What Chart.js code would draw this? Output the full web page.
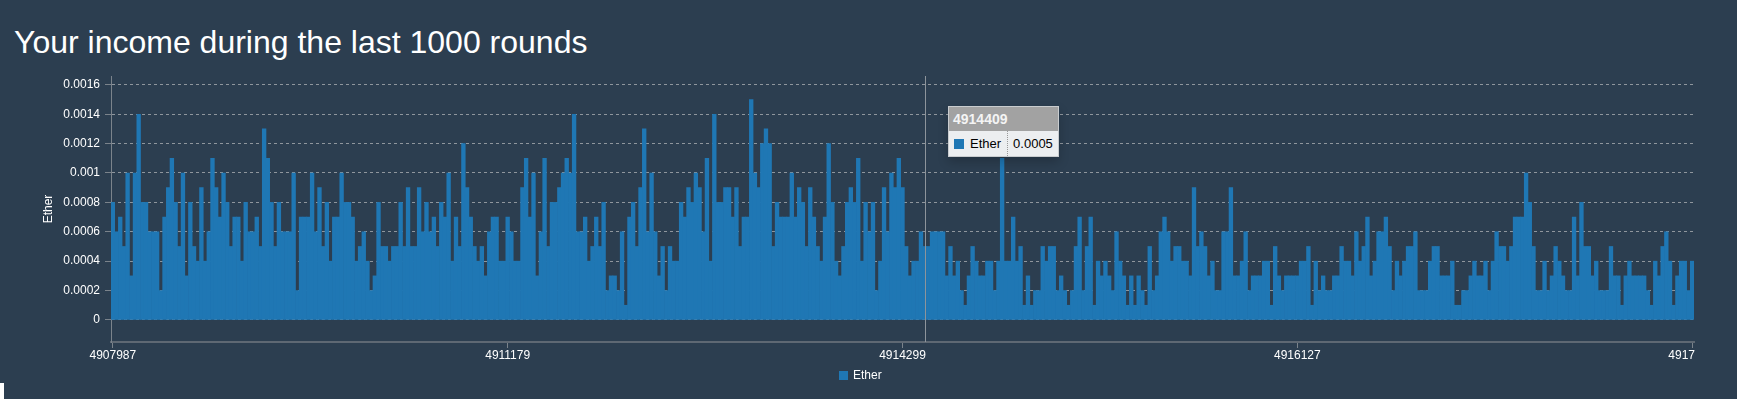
<!DOCTYPE html>
<html>
<head>
<meta charset="utf-8">
<title>Income</title>
<script src="https://cdn.jsdelivr.net/npm/chart.js@4/dist/chart.umd.min.js"></script>
<style>
  html, body { margin: 0; padding: 0; background: #2c3e50; overflow: hidden; }
  body { width: 1737px; height: 399px; position: relative; font-family: Arial, "Liberation Sans", sans-serif; }
  h1 { position: absolute; left: 14px; top: 26px; margin: 0; font-size: 32px; line-height: 32px; font-weight: normal; color: #fff; white-space: nowrap; }
  #chart { position: absolute; left: 0; top: 0; }
  #legend { position: absolute; left: 839px; top: 368px; color: #fff; font-size: 12px; line-height: 15px; white-space: nowrap; }
  #legend .sw { display: inline-block; width: 9px; height: 9px; background: #1f77b4; margin-right: 5px; vertical-align: -1px; }
  #tip { position: absolute; left: 947px; top: 106px; width: 111px; height: 51px; box-sizing: border-box;
         border: 1px solid #c9cccf; box-shadow: 0 5px 10px rgba(0,0,0,0.2); }
  #tip .head { height: 24px; line-height: 25px; background: #a2a2a2; color: #f4f4f4; font-weight: bold; font-size: 14px; padding-left: 4px; }
  #tip .row { height: 25px; background: #eceef0; display: flex; align-items: center; font-size: 13px; color: #000; }
  #tip .sw { width: 10px; height: 10px; background: #1f77b4; margin-left: 5px; margin-right: 6px; }
  #tip .key { padding-right: 6px; }
  #tip .val { border-left: 1px dotted #999; height: 25px; line-height: 25px; padding-left: 5px; }
  #corner { position: absolute; left: 0; top: 383px; width: 4px; height: 16px; background: #fff; }
</style>
</head>
<body>
<h1>Your income during the last 1000 rounds</h1>
<canvas id="chart" width="1737" height="399"></canvas>
<div id="legend"><span class="sw"></span>Ether</div>
<div id="tip">
  <div class="head" id="tipHead"></div>
  <div class="row"><span class="sw"></span><span class="key">Ether</span><span class="val" id="tipVal"></span></div>
</div>
<div id="corner"></div>
<script>
// income per round in Ether left to right
const income = [
  0.0008, 0.0006, 0.0007, 0.0005, 0.001, 0.0003, 0.001, 0.0014, 0.0008, 0.0008,
  0.0006, 0.0006, 0.0006, 0.0002, 0.0007, 0.0009, 0.0011, 0.0008, 0.0005, 0.001,
  0.0003, 0.0008, 0.0005, 0.0004, 0.0009, 0.0004, 0.0006, 0.0011, 0.0009, 0.0007,
  0.001, 0.0008, 0.0005, 0.0007, 0.0007, 0.0004, 0.0008, 0.0006, 0.0006, 0.0007,
  0.0005, 0.0013, 0.0011, 0.0008, 0.0005, 0.0008, 0.0006, 0.0006, 0.0006, 0.001,
  0.0002, 0.0007, 0.0007, 0.0007, 0.001, 0.0006, 0.0009, 0.0005, 0.0008, 0.0004,
  0.0007, 0.0007, 0.001, 0.0008, 0.0008, 0.0007, 0.0004, 0.0005, 0.0006, 0.0004,
  0.0002, 0.0003, 0.0008, 0.0005, 0.0005, 0.0004, 0.0005, 0.0005, 0.0008, 0.0005,
  0.0009, 0.0005, 0.0005, 0.0009, 0.0006, 0.0008, 0.0006, 0.0007, 0.0005, 0.0008,
  0.0007, 0.001, 0.0004, 0.0007, 0.0005, 0.0012, 0.0009, 0.0007, 0.0005, 0.0004,
  0.0005, 0.0003, 0.0006, 0.0007, 0.0007, 0.0004, 0.0004, 0.0007, 0.0006, 0.0004,
  0.0004, 0.0009, 0.0011, 0.0007, 0.001, 0.0003, 0.0006, 0.0011, 0.0005, 0.0008,
  0.0008, 0.0009, 0.001, 0.0011, 0.001, 0.0014, 0.0006, 0.0006, 0.0007, 0.0004,
  0.0005, 0.0007, 0.0005, 0.0008, 0.0002, 0.0003, 0.0003, 0.0002, 0.0006, 0.0001,
  0.0007, 0.0008, 0.0005, 0.0009, 0.0013, 0.0006, 0.001, 0.0006, 0.0003, 0.0005,
  0.0002, 0.0005, 0.0004, 0.0004, 0.0008, 0.0007, 0.0009, 0.0008, 0.001, 0.0009,
  0.0006, 0.0011, 0.0004, 0.0014, 0.0008, 0.0008, 0.0009, 0.0009, 0.0007, 0.0009,
  0.0005, 0.0007, 0.0007, 0.0015, 0.001, 0.0009, 0.0012, 0.0013, 0.0012, 0.0005,
  0.0008, 0.0007, 0.0007, 0.0007, 0.001, 0.0007, 0.0009, 0.0008, 0.0005, 0.0009,
  0.0007, 0.0005, 0.0004, 0.0007, 0.0012, 0.0008, 0.0004, 0.0003, 0.0005, 0.0008,
  0.0009, 0.0008, 0.0011, 0.0004, 0.0008, 0.0006, 0.0008, 0.0002, 0.0004, 0.0009,
  0.0006, 0.001, 0.0009, 0.0011, 0.0009, 0.0005, 0.0003, 0.0004, 0.0004, 0.0006,
  0.0005, 0.0005, 0.0006, 0.0006, 0.0006, 0.0006, 0.0003, 0.0005, 0.0003, 0.0004,
  0.0002, 0.0001, 0.0003, 0.0005, 0.0004, 0.0003, 0.0003, 0.0004, 0.0004, 0.0002,
  0.0004, 0.0011, 0.0004, 0.0004, 0.0007, 0.0004, 0.0005, 0.0001, 0.0003, 0.0001,
  0.0002, 0.0002, 0.0005, 0.0004, 0.0005, 0.0005, 0.0002, 0.0003, 0.0002, 0.0001,
  0.0002, 0.0005, 0.0007, 0.0002, 0.0005, 0.0007, 0.0001, 0.0004, 0.0003, 0.0004,
  0.0003, 0.0002, 0.0006, 0.0004, 0.0003, 0.0001, 0.0003, 0.0001, 0.0003, 0.0002,
  0.0001, 0.0005, 0.0002, 0.0003, 0.0006, 0.0007, 0.0006, 0.0004, 0.0005, 0.0005,
  0.0004, 0.0004, 0.0003, 0.0009, 0.0005, 0.0006, 0.0005, 0.0003, 0.0004, 0.0002,
  0.0002, 0.0006, 0.0006, 0.0009, 0.0003, 0.0003, 0.0004, 0.0006, 0.0002, 0.0003,
  0.0003, 0.0003, 0.0004, 0.0004, 0.0001, 0.0005, 0.0003, 0.0002, 0.0003, 0.0003,
  0.0003, 0.0003, 0.0004, 0.0004, 0.0005, 0.0001, 0.0004, 0.0002, 0.0003, 0.0002,
  0.0002, 0.0003, 0.0003, 0.0005, 0.0004, 0.0004, 0.0003, 0.0006, 0.0004, 0.0005,
  0.0007, 0.0003, 0.0004, 0.0006, 0.0006, 0.0007, 0.0005, 0.0002, 0.0004, 0.0003,
  0.0004, 0.0005, 0.0005, 0.0006, 0.0002, 0.0002, 0.0002, 0.0004, 0.0005, 0.0005,
  0.0003, 0.0003, 0.0003, 0.0004, 0.0001, 0.0001, 0.0002, 0.0002, 0.0003, 0.0004,
  0.0003, 0.0003, 0.0004, 0.0002, 0.0004, 0.0006, 0.0005, 0.0005, 0.0004, 0.0005,
  0.0007, 0.0007, 0.0007, 0.001, 0.0008, 0.0005, 0.0002, 0.0002, 0.0004, 0.0002,
  0.0003, 0.0005, 0.0004, 0.0003, 0.0002, 0.0002, 0.0007, 0.0003, 0.0008, 0.0005,
  0.0005, 0.0003, 0.0004, 0.0002, 0.0002, 0.0002, 0.0005, 0.0003, 0.0003, 0.0001,
  0.0003, 0.0004, 0.0003, 0.0003, 0.0003, 0.0003, 0.0002, 0.0001, 0.0004, 0.0003,
  0.0005, 0.0006, 0.0004, 0.0001, 0.0003, 0.0004, 0.0004, 0.0002, 0.0004
];

// x tick labels and the bar they sit under
const tickIndex = [0, 107, 214, 321, 428];
const tickLabels = ['4907987', '4911179', '4914299', '4916127', '4917'];

const yTicks = [0, 0.0002, 0.0004, 0.0006, 0.0008, 0.001, 0.0012, 0.0014, 0.0016];
const yTickLabels = ['0', '0.0002', '0.0004', '0.0006', '0.0008', '0.001', '0.0012', '0.0014', '0.0016'];

// hovered round shown in the tooltip
const hoverIndex = 220;
const hoverRound = '4914409';

const categories = income.map((v, i) => i);
const FONT = 'Arial, "Liberation Sans", sans-serif';

const guideLine = {
  id: 'guideLine',
  afterDatasetsDraw(chart) {
    const ctx = chart.ctx;
    const area = chart.chartArea;
    const x = Math.round(chart.scales.x.getPixelForValue(hoverIndex)) + 0.5;
    ctx.save();
    ctx.strokeStyle = '#8d949b';
    ctx.lineWidth = 1;
    ctx.beginPath();
    ctx.moveTo(x, area.top);
    ctx.lineTo(x, area.bottom);
    ctx.stroke();
    ctx.restore();

    const tip = document.getElementById('tip');
    tip.style.left = Math.round(x + 22) + 'px';
    document.getElementById('tipHead').textContent = hoverRound;
    document.getElementById('tipVal').textContent = String(income[hoverIndex]);
  }
};

const xLabels = {
  id: 'xLabels',
  afterDraw(chart) {
    const ctx = chart.ctx;
    const area = chart.chartArea;
    const scale = chart.scales.x;
    ctx.save();
    ctx.font = '12px ' + FONT;
    ctx.fillStyle = '#fff';
    ctx.textBaseline = 'alphabetic';
    tickIndex.forEach((idx, k) => {
      const last = k === tickIndex.length - 1;
      // the last label is cut off at the right edge in the original
      ctx.textAlign = last ? 'right' : 'center';
      const px = last ? area.right + 1 : scale.getPixelForValue(idx);
      ctx.fillText(tickLabels[k], px, area.bottom + 17);
    });
    ctx.restore();
  }
};

new Chart(document.getElementById('chart'), {
  type: 'bar',
  data: {
    labels: categories,
    datasets: [{
      label: 'Ether',
      data: income,
      backgroundColor: '#1f77b4',
      borderWidth: 0,
      barPercentage: 1,
      categoryPercentage: 1
    }]
  },
  options: {
    responsive: false,
    animation: false,
    events: [],
    layout: { padding: { top: 76, right: 43, bottom: 57, left: 0 } },
    plugins: {
      legend: { display: false },
      tooltip: { enabled: false }
    },
    scales: {
      x: {
        ticks: { display: false },
        grid: { drawOnChartArea: false, drawTicks: true, tickLength: 6, tickColor: '#7b838b', offset: false },
        border: { color: '#5e6873', width: 2 },
        afterBuildTicks: s => { s.ticks = tickIndex.map(v => ({ value: v })); },
        afterFit: s => { s.height = 0; }
      },
      y: {
        min: -0.00015,
        max: 0.00166,
        afterBuildTicks: s => { s.ticks = yTicks.map(v => ({ value: v })); },
        afterFit: s => { s.width = 111; },
        ticks: {
          color: '#fff',
          padding: 5,
          font: { family: FONT, size: 12 },
          callback: (v, i) => yTickLabels[i]
        },
        grid: { color: '#8f969d', lineWidth: 1, tickLength: 6, tickColor: '#7b838b' },
        border: { color: '#7b838b', width: 1, dash: [3, 3] },
        title: {
          display: true,
          text: 'Ether',
          color: '#fff',
          font: { family: FONT, size: 12 },
          padding: { top: 41, bottom: 0 }
        }
      }
    }
  },
  plugins: [guideLine, xLabels]
});
</script>
</body>
</html>
